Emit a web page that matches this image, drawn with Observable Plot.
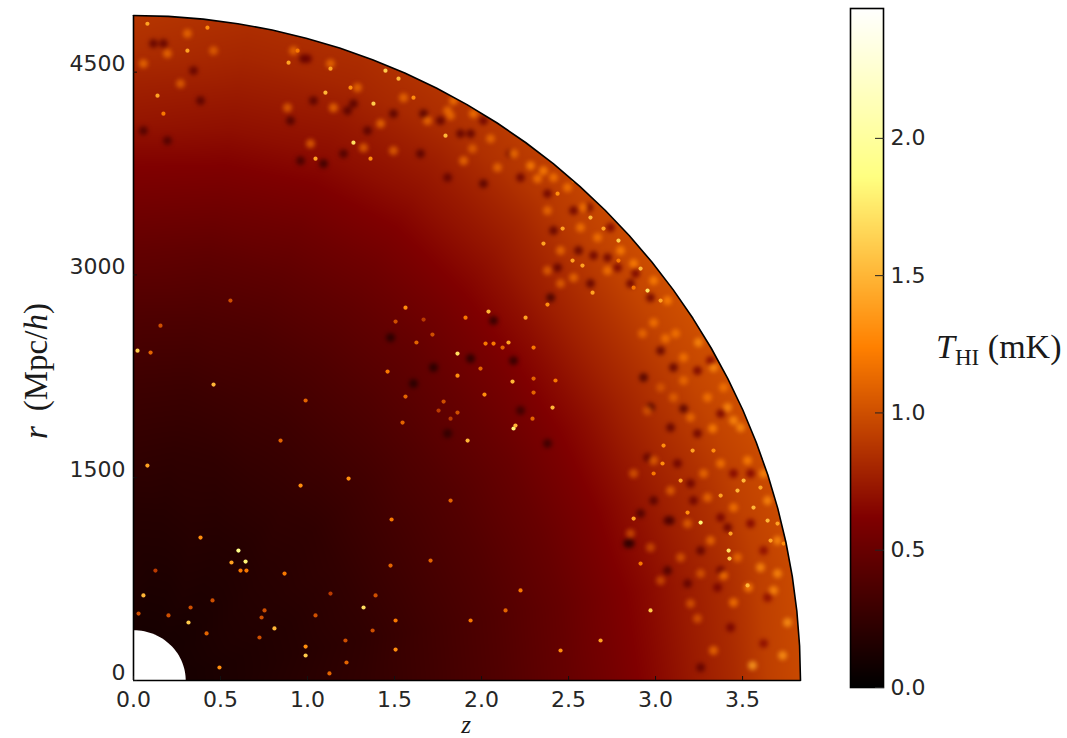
<!DOCTYPE html>
<html>
<head>
<meta charset="utf-8">
<style>
  html, body { margin: 0; padding: 0; background: #fff; }
  #page { position: relative; width: 1067px; height: 738px; overflow: hidden; background: #fff; }
  #page > div.chart { position: absolute; top: 0; }
  .mathlabel { position: absolute; font-family: "Liberation Serif", serif; color: #1a1a1a; white-space: nowrap; line-height: 1; }
  .mathlabel i { font-style: italic; }
  .mathlabel sub { font-size: 0.68em; vertical-align: -0.3em; line-height: 0; }
</style>
<script src="https://cdn.jsdelivr.net/npm/d3@7"></script>
<script src="https://cdn.jsdelivr.net/npm/@observablehq/plot@0.6"></script>
</head>
<body>
<div id="page"></div>
<script>
// Axis limits and ticks
const zMax = 3.833;
const rMax = 4919;
const tMax = 2.473;
const zTicks = [0, 0.5, 1, 1.5, 2, 2.5, 3, 3.5];
const rTicks = [0, 1500, 3000, 4500];
const tTicks = [0, 0.5, 1, 1.5, 2];

// afmhot colour stops
const colorStops = [0, 0.618, 1.2365, 1.855, 2.473];
const colorRange = ["#000000", "#800000", "#ff8000", "#ffff80", "#ffffff"];

// Smooth background level (mK) read per ring (fraction of the outer radius) and sector (degrees from the r axis)
const ringFrac = [0.05, 0.15, 0.25, 0.35, 0.45, 0.55, 0.65, 0.72, 0.78, 0.84, 0.90, 0.95, 1.03];
const sectorDeg = [0, 10, 20, 30, 40, 50, 60, 70, 80, 90];
const ringLevels = [
  [.10, .10, .10, .10, .10, .10, .10, .10, .10, .10],
  [.15, .14, .14, .15, .14, .14, .15, .15, .14, .14],
  [.18, .18, .19, .18, .18, .19, .19, .18, .18, .19],
  [.24, .23, .23, .24, .24, .23, .24, .24, .23, .24],
  [.30, .29, .30, .30, .31, .31, .32, .32, .31, .31],
  [.38, .37, .37, .38, .39, .40, .40, .40, .39, .39],
  [.48, .46, .46, .47, .48, .50, .50, .50, .49, .49],
  [.56, .54, .53, .54, .56, .58, .59, .59, .58, .57],
  [.63, .61, .60, .61, .64, .67, .68, .68, .66, .65],
  [.72, .69, .68, .69, .72, .77, .78, .77, .75, .74],
  [.78, .75, .74, .76, .80, .86, .87, .85, .83, .82],
  [.84, .80, .80, .83, .88, .94, .95, .93, .92, .92],
  [.90, .86, .86, .90, .96, 1.02, 1.03, 1.01, 1.00, 1.00]
];

const spotZ = [
  1.563,1.506,1.667,1.718,1.626,1.862,1.862,1.460,1.563,1.782,2.017,2.178,2.299,2.425,2.408,2.184,1.920,2.293,1.546,2.040,
  1.908,2.253,2.379,2.023,2.069,2.155,2.121,2.299,1.994,2.299,1.862,1.753,1.822,
  .057,.316,.201,.420,.494,.810,.753,.736,.868,.615,.649,.644,.563,.989,.989,1.322,1.506,1.506,1.046,1.126,1.224,1.218,1.374,
  1.391,1.477,1.132,.328,.724,.454,.126,.029,
  .603,.385,.080,.460,.098,.023,1.236,1.483,2.195,.155,.989,.960,1.707,2.224,2.684,2.971,1.937,2.454,2.138,1.822,.845,.557,
  3.420,3.425,3.259,2.874,3.144,2.989,3.040,3.563,3.506,3.374,3.661,3.736,3.603,3.333,3.213,3.046,3.431,3.529,3.184,2.914,3.644,3.701,3.471,
  2.626,2.701,2.787,2.466,2.356,2.523,2.437,2.580,2.914,2.954,2.874,2.638,3.029,2.787,2.529,
  1.448,1.523,.891,1.132,1.379,1.103,1.264,1.247,1.793,1.046,.943,1.609,1.362,
  .138,.080,.310,.425,.172
];
const spotR = [
  2758,2655,2670,2559,2500,2418,2255,2285,2100,2063,2115,2211,2233,2219,2019,1864,1775,1937,1908,2729,
  2684,2684,2781,2492,2492,2500,2463,2463,2307,2130,1982,1997,1937,
  629,429,481,348,96,385,518,466,791,813,813,880,873,251,185,540,229,444,481,52,133,296,370,
  629,850,643,540,318,592,813,495,
  961,1057,1590,2189,2426,2440,1494,1191,1886,2625,2071,1442,887,666,296,518,444,222,518,1331,1775,2810,
  961,902,1168,1198,1479,1531,1605,1279,1479,1368,1035,1013,1427,1701,1701,1738,1087,703,1242,865,1183,1161,1405,
  3424,3343,3254,3343,3232,3106,3601,3069,3047,2884,2906,2869,2810,3106,3698,
  4511,4452,4570,4526,4267,4348,3978,4385,4030,3860,4659,4311,3860,
  4326,4858,4659,4829,4193
];
const spotT = [
  1.3,1.0,0.9,1.0,1.1,1.7,1.3,1.2,1.1,1.0,1.3,1.5,1.1,1.2,1.5,1.8,1.5,1.1,1.1,1.5,
  1.2,1.4,1.3,1.2,1.2,1.4,1.1,1.2,1.1,1.1,1.0,0.9,0.9,
  1.5,1.6,1.0,1.1,1.3,1.5,1.0,1.0,1.2,1.2,1.2,1.8,1.4,1.3,1.6,1.7,1.3,1.2,1.0,1.1,1.1,1.0,1.0,
  1.0,1.1,0.9,1.0,1.0,1.0,0.9,1.0,
  1.9,1.3,1.4,1.5,1.1,1.6,1.3,1.2,1.5,1.0,1.1,1.3,1.1,1.2,1.4,1.6,1.2,1.3,1.1,1.1,1.1,1.0,
  1.7,1.6,1.8,1.4,1.4,1.2,1.3,1.5,1.5,1.4,1.4,1.3,1.4,1.3,1.4,1.3,1.4,1.5,1.3,1.2,1.5,1.4,1.5,
  1.5,1.4,1.6,1.4,1.4,1.4,1.3,1.4,1.5,1.7,1.2,1.4,1.4,1.2,1.2,
  1.6,1.5,1.4,1.4,1.6,1.5,1.7,1.3,1.5,1.4,1.2,1.3,1.3,
  1.4,1.4,1.4,1.3,1.2
];

const brightZ = [
  .920,1.132,1.287,1.149,1.420,1.552,1.690,1.017,1.322,1.805,.885,1.494,
  2.414,2.494,2.379,2.569,2.454,2.586,2.667,2.799,2.724,2.529,2.989,3.069,2.379,2.874,2.454,
  2.989,3.086,2.874,3.276,3.374,3.184,3.299,3.448,3.621,3.529,3.644,3.701,3.603,3.316,3.144,2.971,2.856,3.471,3.701,3.259,3.029,
  3.534,3.448,3.759,3.557,3.391,3.241,3.730,3.678,3.333,3.201,
  .310,.195,.057,.460,.270,
  2.989,2.925,3.115,3.247,3.057,3.161,3.333,3.029,3.161,3.414,3.299,3.103,3.328,3.448,2.954,3.201,3.489,3.391,
  1.897,1.822,1.954,2.052,2.184,2.282,2.092,1.948,2.356,1.839,2.322
];
const brightR = [
  4659,4563,4385,4237,4119,4311,4141,3971,3941,4215,4237,3919,
  3720,3646,3476,3350,3180,3498,3276,3180,3032,2980,2958,2810,3032,3084,2936,
  1627,1405,1531,1531,1605,1161,1353,1279,1531,1627,1331,1035,836,1035,910,984,1087,910,791,791,740,
  688,577,429,111,776,458,185,666,222,569,
  4785,4637,4563,4659,4415,
  2647,2566,2566,2500,2529,2389,2315,2167,2219,2019,2093,2093,1864,1923,1997,1945,1871,2167,
  3845,4178,4193,4008,3897,3808,3794,3934,3771,4289,3712
];
const brightT = [
  1.15,1.15,1.15,1.15,1.15,1.15,1.15,1.1,1.1,1.15,1.1,1.1,
  1.2,1.2,1.15,1.2,1.15,1.2,1.2,1.25,1.2,1.15,1.25,1.25,1.1,1.25,1.1,
  1.1,1.1,1.05,1.15,1.2,1.1,1.15,1.2,1.3,1.25,1.3,1.3,1.3,1.15,1.05,1.0,1.0,1.15,1.3,1.05,1.0,
  1.25,1.2,1.35,1.4,1.2,1.05,1.35,1.3,1.15,1.05,
  1.15,1.15,1.15,1.1,1.1,
  1.2,1.15,1.2,1.3,1.2,1.2,1.3,1.05,1.15,1.3,1.2,1.1,1.25,1.3,1.05,1.15,1.3,1.2,
  1.15,1.15,1.2,1.15,1.2,1.25,1.15,1.1,1.25,1.2,1.2
];

const darkZ = [
  .977,1.034,.902,1.230,1.092,1.345,1.494,1.649,1.764,1.207,.960,1.264,1.667,1.000,
  2.379,2.529,2.414,2.724,2.782,2.856,2.626,2.437,2.971,2.741,2.557,2.615,2.397,2.644,2.885,
  3.069,2.856,3.218,2.954,3.126,3.448,3.374,3.546,3.621,3.259,3.069,2.914,3.374,3.086,2.839,3.414,3.546,2.989,3.201,
  3.644,3.259,3.431,3.621,3.184,3.356,
  .115,.345,.057,.385,.195,.172,
  3.241,2.971,3.161,3.316,3.103,2.931,3.029,3.374,3.241,3.086,
  1.805,2.011,2.167,1.879,2.224,2.011,1.937,
  1.937,1.609,1.805,2.069,2.184,1.477,1.724,2.379,2.224
];
const darkR = [
  4600,4289,4141,4215,3823,4067,4193,3897,4141,3897,3845,4267,4193,4600,
  3601,3476,3328,3128,3054,2936,2936,3054,2832,3350,3180,3498,2832,3143,3010,
  1183,1013,1331,1649,1605,1531,1205,1161,961,961,813,1235,813,1183,1013,1131,1531,1331,1457,
  614,96,392,274,717,688,
  4711,4511,4067,4289,3993,4711,
  2292,2019,2011,2366,2315,2241,2440,1974,1827,1871,
  3720,3675,3897,4045,3720,4141,4045,
  2381,2196,1827,2662,2366,2536,2315,1753,1997
];
const darkT = [
  .45,.4,.35,.4,.25,.4,.4,.4,.45,.35,.3,.4,.4,.5,
  .5,.5,.45,.5,.55,.5,.45,.45,.5,.55,.45,.5,.3,.5,.55,
  .4,.25,.5,.45,.5,.6,.55,.6,.65,.45,.35,.35,.5,.35,.2,.5,.6,.4,.5,
  .65,.45,.55,.65,.45,.55,
  .45,.45,.35,.4,.35,.45,
  .55,.35,.4,.6,.45,.35,.45,.55,.5,.45,
  .45,.4,.5,.45,.5,.5,.45,
  .15,.15,.2,.2,.2,.15,.15,.25,.25
];

const edgeUnit = [0,.05234,.10453,.15643,.20791,.25882,.30902,.35837,.40674,.45399,.5,.54464,.58779,.62932,.66913,.70711,
  .74314,.77715,.80902,.83867,.86603,.89101,.91355,.93358,.95106,.96593,.97815,.98769,.99452,.99863,1];
const holeZ = 0.30;
const holeR = 372;

// Tables for the marks
const levelPoints = ringFrac.flatMap((f, i) => sectorDeg.map((deg, j) => ({
  z: zMax * f * Math.sin(deg * Math.PI / 180),
  r: rMax * f * Math.cos(deg * Math.PI / 180),
  T: ringLevels[i][j]
})));
const spots = spotZ.map((z, i) => ({z, r: spotR[i], T: spotT[i]}));
const patches = [
  ...darkZ.map((z, i) => ({z, r: darkR[i], T: darkT[i]})),
  ...brightZ.map((z, i) => ({z, r: brightR[i], T: brightT[i]}))
];
const edgeReversed = edgeUnit.slice().reverse();
const outerArc = edgeUnit.map((u, i) => ({z: zMax * u, r: rMax * edgeReversed[i]}));
const outerMask = [{z: 0, r: rMax * 1.02}, ...outerArc, {z: zMax * 1.02, r: 0}, {z: zMax * 1.02, r: rMax * 1.02}];
const innerMask = [...edgeUnit.map((u, i) => ({z: holeZ * u, r: holeR * edgeReversed[i]})), {z: 0, r: 0}];

const axisFont = {fontSize: 22, fontFamily: "DejaVu Sans", fill: "#262626"};
const colorScale = {type: "linear", domain: colorStops, range: colorRange, interpolate: "rgb", clamp: true};

const mapChart = Plot.plot({
  width: 840, height: 738,
  marginLeft: 133, marginRight: 40, marginTop: 15, marginBottom: 58,
  style: {background: "white", overflow: "visible"},
  x: {domain: [0, zMax], label: null},
  y: {domain: [0, rMax], label: null},
  color: colorScale,
  marks: [
    Plot.raster(levelPoints, {x: "z", y: "r", fill: "T", interpolate: "barycentric", pixelSize: 1}),
    Plot.dot(patches, {x: "z", y: "r", fill: "T", r: 4.5, stroke: null, fillOpacity: 0.8}),
    Plot.dot(spots, {x: "z", y: "r", fill: "T", r: 2.1, stroke: null}),
    Plot.line(outerMask, {x: "z", y: "r", fill: "white", stroke: null}),
    Plot.line(innerMask, {x: "z", y: "r", fill: "white", stroke: null}),
    Plot.line(outerArc, {x: "z", y: "r", stroke: "black", strokeWidth: 1.6}),
    Plot.ruleX([0], {stroke: "black", strokeWidth: 1.6}),
    Plot.ruleY([0], {stroke: "black", strokeWidth: 1.6}),
    Plot.axisX({ticks: zTicks, tickSize: -4, text: null, stroke: "#111", label: null}),
    Plot.axisX({ticks: zTicks, tickSize: 0, tickPadding: 11, tickFormat: ".1f", label: null, ...axisFont}),
    Plot.axisY({ticks: rTicks, tickSize: -4, text: null, stroke: "#111", label: null}),
    Plot.axisY({ticks: rTicks, tickSize: 0, tickPadding: 8, tickFormat: d => String(d), label: null, dy: -8, ...axisFont})
  ]
});

// Soften the patches and specks so that they read as the blurred map, not as discs
const dotGroups = mapChart.querySelectorAll('g[aria-label="dot"]');
dotGroups[0].style.filter = "blur(2.2px)";
dotGroups[1].style.filter = "blur(0.7px)";

const barChart = Plot.plot({
  width: 227, height: 738,
  marginLeft: 10, marginRight: 184, marginTop: 8, marginBottom: 51,
  style: {background: "transparent", overflow: "visible"},
  x: {domain: [0, 1], axis: null},
  y: {domain: [0, tMax], label: null},
  color: colorScale,
  marks: [
    Plot.raster({x1: 0, x2: 1, y1: 0, y2: tMax, width: 2, height: 340, fill: (x, y) => y}),
    Plot.frame({stroke: "black", strokeWidth: 1.6}),
    Plot.axisY({anchor: "right", ticks: tTicks, tickSize: -9, text: null, stroke: "#222", label: null}),
    Plot.axisY({anchor: "right", ticks: tTicks, tickSize: 0, tickPadding: 7, tickFormat: ".1f", label: null, ...axisFont})
  ]
});

const page = document.getElementById("page");
const holder1 = document.createElement("div");
holder1.className = "chart"; holder1.style.left = "0px"; holder1.append(mapChart);
const holder2 = document.createElement("div");
holder2.className = "chart"; holder2.style.left = "840px"; holder2.append(barChart);
page.append(holder1, holder2);

function addLabel(html, css) {
  const el = document.createElement("div");
  el.className = "mathlabel";
  el.innerHTML = html;
  Object.assign(el.style, css);
  page.append(el);
}
addLabel("<i>r</i>&#8201; (Mpc/<i>h</i>)", {left: "36px", top: "371px", fontSize: "33px", transform: "translate(-50%,-50%) rotate(-90deg)"});
addLabel("<i>z</i>", {left: "466px", top: "723.5px", fontSize: "25px", lineHeight: "0.6", transform: "translate(-50%,-50%)"});
addLabel("<i>T</i><sub>HI</sub> (mK)", {left: "936px", top: "347px", fontSize: "34px", transform: "translateY(-50%)"});
</script>
</body>
</html>
